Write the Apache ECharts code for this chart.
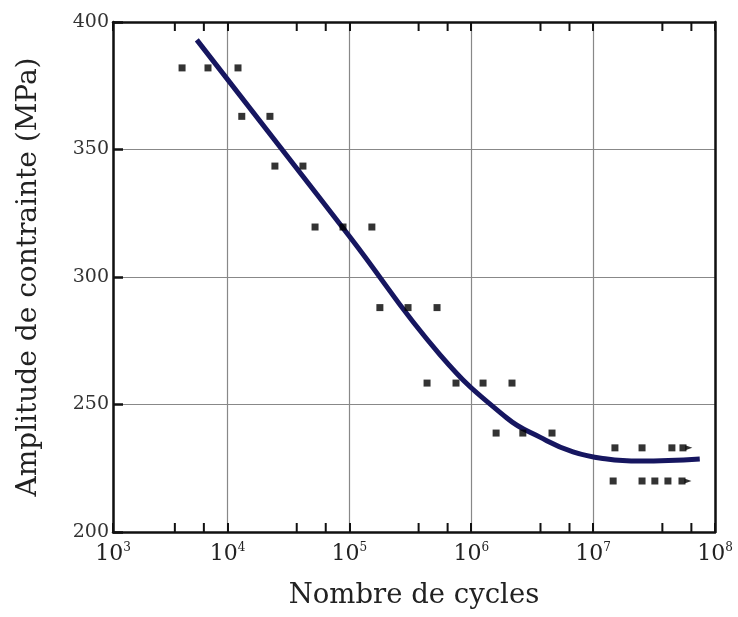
<!DOCTYPE html>
<html><head><meta charset="utf-8">
<script src="https://cdn.jsdelivr.net/npm/echarts@6/dist/echarts.min.js"></script>
<style>html,body{margin:0;padding:0;background:#fff}#c{width:738px;height:617px}</style>
</head><body><div id="c"></div>
<script>
// Data (N cycles, stress amplitude MPa)
const pointsN = [4240, 6920, 12200, 13100, 22300, 24500, 41600, 52300, 88700, 153000,
  178000, 303000, 524000, 434000, 750000, 1250000, 2160000, 1600000, 2650000, 4600000,
  15100000, 25200000, 44300000, 54600000, 14600000, 25200000, 32100000, 41100000, 53600000];
const pointsS = [382, 382, 382, 363, 363, 343.5, 343.5, 319.6, 319.6, 319.6,
  288, 288, 288, 258.4, 258.4, 258.4, 258.4, 238.8, 238.8, 238.8,
  233, 233, 233, 233, 220, 220, 220, 220, 220];
const runoutN = [61000000, 60000000];
const runoutS = [233, 220];
const curveN = [5600, 100000, 555000, 1960000, 3660000, 6840000, 13000000, 24200000, 75000000];
const curveS = [393, 316, 269.5, 244.7, 237.2, 231.4, 228.6, 227.8, 228.6];
const minorTickN = [3700, 6400, 37000, 64000, 370000, 640000, 3700000, 6400000, 37000000, 64000000];
const yTicks = [200, 250, 300, 350, 400];
const xMin = 1150, xMax = 1e8;

const serif = '"DejaVu Serif", "Liberation Serif", serif';
const chart = echarts.init(document.getElementById('c'));
const xCommon = {
  type: 'log', logBase: 10, min: xMin, max: xMax,
  axisLine: {show: true, lineStyle: {color: '#111', width: 2.5}},
  axisTick: {show: true, inside: true, length: 9, lineStyle: {color: '#111', width: 2}},
  minorTick: {show: false}
};
chart.setOption({
  backgroundColor: '#fff',
  animation: false,
  grid: {left: 113, right: 23, top: 22, bottom: 85, show: false},
  xAxis: [
    Object.assign({}, xCommon, {
      position: 'bottom',
      name: 'Nombre de cycles', nameLocation: 'middle', nameGap: 50,
      nameTextStyle: {fontFamily: serif, fontSize: 27.5, color: '#222'},
      splitLine: {show: true, lineStyle: {color: '#888', width: 1.2}},
      axisLabel: {
        margin: 10, showMinLabel: true, showMaxLabel: true,
        formatter: v => '{b|10}{s|' + Math.round(Math.log10(v)) + '}',
        rich: {
          b: {fontFamily: serif, fontSize: 22, color: '#222'},
          s: {fontFamily: serif, fontSize: 12, color: '#222', padding: [0, 0, 13, 0]}
        }
      }
    }),
    Object.assign({}, xCommon, {
      position: 'top', axisLabel: {show: false}, splitLine: {show: false}
    })
  ],
  yAxis: [
    {
      type: 'value', min: 200, max: 400, interval: 50, position: 'left',
      name: 'Amplitude de contrainte (MPa)', nameLocation: 'middle', nameGap: 70,
      nameTextStyle: {fontFamily: serif, fontSize: 28, color: '#222'},
      axisLine: {show: true, lineStyle: {color: '#111', width: 2.5}},
      axisTick: {show: true, inside: true, length: 10, lineStyle: {color: '#111', width: 2.5}},
      splitLine: {show: true, lineStyle: {color: '#888', width: 1.2}},
      axisLabel: {fontFamily: serif, fontSize: 19, color: '#333', margin: 4,
        formatter: v => yTicks.indexOf(v) >= 0 ? String(v) : ''}
    },
    {
      type: 'value', min: 200, max: 400, interval: 50, position: 'right',
      axisLine: {show: true, lineStyle: {color: '#111', width: 2.5}},
      axisTick: {show: false}, axisLabel: {show: false}, splitLine: {show: false}
    }
  ],
  series: [
    {
      type: 'custom', xAxisIndex: 0, yAxisIndex: 0, silent: true,
      data: minorTickN.map(n => [n]),
      renderItem: (params, api) => {
        const b = api.coord([api.value(0), 200]);
        const t = api.coord([api.value(0), 400]);
        return {type: 'group', children: [
          {type: 'line', shape: {x1: b[0], y1: b[1], x2: b[0], y2: b[1] - 9}, style: {stroke: '#111', lineWidth: 2}},
          {type: 'line', shape: {x1: t[0], y1: t[1], x2: t[0], y2: t[1] + 9}, style: {stroke: '#111', lineWidth: 2}}
        ]};
      }
    },
    {
      type: 'line', smooth: 0.45, showSymbol: false, symbol: 'none',
      data: curveN.map((n, i) => [n, curveS[i]]),
      lineStyle: {color: '#161660', width: 5},
      z: 3
    },
    {
      type: 'scatter', symbol: 'rect', symbolSize: 7,
      data: pointsN.map((n, i) => [n, pointsS[i]]),
      itemStyle: {color: '#000'},
      z: 4
    },
    {
      type: 'scatter', symbol: 'triangle', symbolSize: [5, 7], symbolRotate: -90,
      data: runoutN.map((n, i) => [n, runoutS[i]]),
      itemStyle: {color: '#000'},
      z: 4
    }
  ]
});
</script></body></html>
